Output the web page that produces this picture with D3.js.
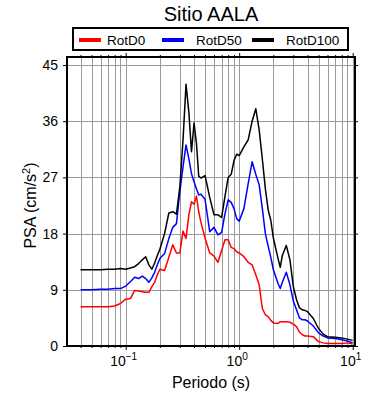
<!DOCTYPE html>
<html>
<head>
<meta charset="utf-8">
<script src="https://cdn.jsdelivr.net/npm/d3@7"></script>
<style>
  body { margin: 0; background: #fff; }
  svg { font-family: "Liberation Sans", Arial, sans-serif; }
</style>
</head>
<body>
<div id="chart"></div>
<script>
// periods (s) shared by the three spectra
const periods = [0.04,0.05,0.06,0.07,0.08,0.09,0.1,0.11,0.12,0.13,0.14,0.15,0.16,0.17,0.18,0.19,0.2,
  0.22,0.24,0.26,0.28,0.3,0.32,0.34,0.36,0.38,0.4,0.42,0.44,0.46,
  0.5,0.55,0.6,0.65,0.7,0.75,0.8,0.85,0.9,0.95,
  1.0,1.1,1.2,1.3,1.4,1.5,1.6,1.7,1.8,1.9,2.0,
  2.2,2.3,2.4,2.6,2.8,3.0,3.2,3.4,3.6,3.8,4.0,
  4.5,5.0,5.5,6.0,7.0,8.0,9.0,10.0];

const rotD0 = [6.3,6.3,6.3,6.3,6.4,6.8,7.5,7.6,8.9,8.8,8.7,8.6,8.6,9.5,10.2,11.4,12.3,
  12.1,14.2,16.2,14.9,14.9,18.4,17.2,21.0,23.1,22.7,24.0,21.5,19.8,
  17.3,14.9,14.4,13.4,15.3,17.0,17.0,15.8,15.6,15.1,
  14.9,14.3,13.4,13.0,11.4,9.8,6.0,5.0,4.7,4.1,3.7,
  3.6,3.9,3.9,3.9,3.8,3.5,3.1,2.2,1.8,1.6,1.6,
  1.5,0.7,0.5,0.4,0.4,0.4,0.5,0.3];

const rotD50 = [9.0,9.0,9.1,9.1,9.2,9.2,9.6,10.3,11.0,10.8,11.2,10.8,10.2,10.9,11.8,13.0,14.0,
  14.8,17.2,19.0,19.6,24.7,28.7,32.2,30.0,27.6,26.3,25.2,24.2,24.3,
  23.5,18.3,19.0,17.8,18.2,21.2,23.4,23.0,22.0,20.4,
  20.0,22.0,26.0,29.5,27.5,25.8,22.0,18.0,16.0,14.2,12.2,
  10.0,9.2,10.2,11.8,9.8,7.2,5.8,4.5,4.2,4.2,4.0,
  3.2,2.1,1.6,1.3,1.2,1.0,0.8,0.5];

const rotD100 = [12.2,12.2,12.2,12.3,12.3,12.4,12.3,12.5,12.7,13.2,13.8,14.3,13.0,12.3,13.3,14.5,15.5,
  18.0,21.3,21.5,21.1,25.5,33.0,41.9,37.5,31.1,35.7,32.5,27.2,26.9,
  27.3,23.8,21.0,21.0,20.6,24.0,27.0,27.5,29.7,30.7,
  30.5,31.9,33.0,36.0,38.0,34.6,29.9,25.2,21.8,20.1,17.3,
  14.0,12.6,14.5,16.1,13.8,9.5,7.4,6.1,5.8,5.7,5.5,
  4.4,2.8,1.9,1.5,1.4,1.3,1.1,0.9];

const seriesNames = ['RotD0', 'RotD50', 'RotD100'];
const seriesColors = ['#ff0000', '#0000ff', '#000000'];
const yTicks = [0, 9, 18, 27, 36, 45];
const xMajor = [0.1, 1, 10];

const W = 390, H = 400;
const plot = {left: 67, right: 355, top: 57, bottom: 346};

const svg = d3.select('#chart').append('svg')
  .attr('width', W).attr('height', H);

const x = d3.scaleLog().domain([0.0304, 10.48]).range([plot.left, plot.right]);
const y = d3.scaleLinear().domain([0, 45]).range([plot.bottom, 65]);

// minor log positions for grid and ticks
const xMinor = [];
[0.01, 0.1, 1, 10].forEach(dec => {
  for (let k = 1; k <= 9; k++) {
    const v = +(dec * k).toPrecision(3);
    if (v >= 0.0304 && v <= 10.48) xMinor.push(v);
  }
});

// grid
const grid = svg.append('g').attr('stroke', '#9a9a9a').attr('stroke-width', 1);
grid.selectAll('.vg').data(xMinor).enter().append('line')
  .attr('x1', d => Math.round(x(d)) + 0.5).attr('x2', d => Math.round(x(d)) + 0.5)
  .attr('y1', plot.top).attr('y2', plot.bottom);
grid.selectAll('.hg').data(yTicks.slice(1)).enter().append('line')
  .attr('x1', plot.left).attr('x2', plot.right)
  .attr('y1', d => Math.round(y(d)) + 0.5).attr('y2', d => Math.round(y(d)) + 0.5);

// spectra
const lineGen = d3.line()
  .x((d, i) => x(periods[i]))
  .y(d => y(d));

[rotD0, rotD50, rotD100].forEach((vals, k) => {
  svg.append('path')
    .datum(vals)
    .attr('fill', 'none')
    .attr('stroke', seriesColors[k])
    .attr('stroke-width', 1.5)
    .attr('stroke-linejoin', 'round')
    .attr('d', lineGen);
});

// axes ticks (outward), drawn by d3 axes
function styleAxis(g) {
  g.select('.domain').remove();
  g.selectAll('line').attr('stroke', '#000');
}
const minorOnly = xMinor.filter(v => !xMajor.includes(v));
svg.append('g').attr('transform', `translate(${plot.left},0)`)
  .call(d3.axisLeft(y).tickValues(yTicks).tickSize(4).tickFormat(''))
  .call(styleAxis);
svg.append('g').attr('transform', `translate(${plot.right},0)`)
  .call(d3.axisRight(y).tickValues(yTicks).tickSize(3).tickFormat(''))
  .call(styleAxis);
svg.append('g').attr('transform', `translate(0,${plot.bottom})`)
  .call(d3.axisBottom(x).tickValues(minorOnly).tickSize(2).tickFormat(''))
  .call(styleAxis);
svg.append('g').attr('transform', `translate(0,${plot.bottom})`)
  .call(d3.axisBottom(x).tickValues(xMajor).tickSize(4).tickFormat(''))
  .call(styleAxis);
svg.append('g').attr('transform', `translate(0,${plot.top})`)
  .call(d3.axisTop(x).tickValues(minorOnly).tickSize(2).tickFormat(''))
  .call(styleAxis);
svg.append('g').attr('transform', `translate(0,${plot.top})`)
  .call(d3.axisTop(x).tickValues(xMajor).tickSize(4).tickFormat(''))
  .call(styleAxis);

// frame
svg.append('rect')
  .attr('x', plot.left).attr('y', plot.top)
  .attr('width', plot.right - plot.left).attr('height', plot.bottom - plot.top)
  .attr('fill', 'none').attr('stroke', '#000').attr('stroke-width', 2);

// y tick labels
svg.selectAll('.ylab').data(yTicks).enter().append('text')
  .attr('x', plot.left - 9).attr('y', d => y(d) + 5)
  .attr('text-anchor', 'end').attr('font-size', 14)
  .text(d => d);

// x tick labels 10^n
const xl = svg.selectAll('.xlab').data(xMajor).enter().append('text')
  .attr('x', d => x(d) - 2).attr('y', 366)
  .attr('text-anchor', 'middle').attr('font-size', 14);
xl.append('tspan').text('10');
xl.append('tspan').attr('dy', -6).attr('font-size', 10)
  .text(d => d === 1 ? '0' : (d < 1 ? '\u22121' : '1'));

// axis titles
svg.append('text')
  .attr('x', (plot.left + plot.right) / 2).attr('y', 388)
  .attr('text-anchor', 'middle').attr('font-size', 16)
  .text('Periodo (s)');

const yt = svg.append('text')
  .attr('transform', `translate(36,${(plot.top + plot.bottom) / 2 + 4}) rotate(-90)`)
  .attr('text-anchor', 'middle').attr('font-size', 16);
yt.append('tspan').text('PSA (cm/s');
yt.append('tspan').attr('dy', -6).attr('font-size', 11).text('2');
yt.append('tspan').attr('dy', 6).text(')');

// title
svg.append('text')
  .attr('x', (plot.left + plot.right) / 2).attr('y', 21)
  .attr('text-anchor', 'middle').attr('font-size', 20)
  .text('Sitio AALA');

// legend
svg.append('rect')
  .attr('x', 73).attr('y', 28).attr('width', 275).attr('height', 22)
  .attr('fill', '#fff').attr('stroke', '#000').attr('stroke-width', 2);
const legX = [79, 162, 252];
const legTextX = [107, 196, 286];
seriesNames.forEach((name, k) => {
  svg.append('line')
    .attr('x1', legX[k]).attr('x2', legX[k] + 22)
    .attr('y1', 40).attr('y2', 40)
    .attr('stroke', seriesColors[k]).attr('stroke-width', 4);
  svg.append('text')
    .attr('x', legTextX[k]).attr('y', 45)
    .attr('font-size', 13.5)
    .text(name);
});
</script>
</body>
</html>
